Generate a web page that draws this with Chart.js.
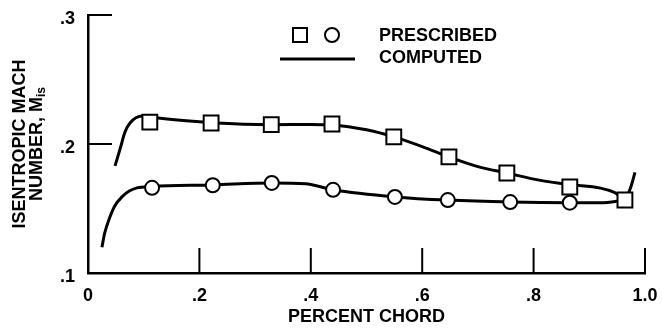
<!DOCTYPE html>
<html>
<head>
<meta charset="utf-8">
<script src="https://cdn.jsdelivr.net/npm/chart.js@4.4.0/dist/chart.umd.min.js"></script>
<style>
  html, body { margin: 0; padding: 0; background: #fff; }
  #wrap { width: 662px; height: 335px; }
</style>
</head>
<body>
<div id="wrap"><canvas id="machChart"></canvas></div>
<script>
// prescribed points (squares = upper surface, circles = lower surface)
const squareX = [0.111, 0.221, 0.329, 0.438, 0.549, 0.648, 0.752, 0.865, 0.964];
const squareY = [0.217, 0.2163, 0.215, 0.2155, 0.2055, 0.190, 0.1775, 0.1667, 0.1566];
const circleX = [0.115, 0.224, 0.330, 0.440, 0.551, 0.646, 0.758, 0.865];
const circleY = [0.166, 0.168, 0.1698, 0.1645, 0.159, 0.1565, 0.155, 0.1545];

// computed distributions
const upperX = [0.0485, 0.0575, 0.0664, 0.0754, 0.097, 0.126, 0.206, 0.221, 0.329, 0.40, 0.438, 0.50, 0.549, 0.60, 0.648, 0.70, 0.752, 0.81, 0.865, 0.92, 0.945, 0.964, 0.974, 0.982];
const upperY = [0.183, 0.196, 0.2093, 0.2163, 0.2217, 0.2202, 0.217, 0.2165, 0.2150, 0.2152, 0.2148, 0.211, 0.2055, 0.198, 0.190, 0.1825, 0.1775, 0.172, 0.1685, 0.1658, 0.1625, 0.1575, 0.166, 0.178];
const lowerX = [0.025, 0.030, 0.039, 0.048, 0.061, 0.074, 0.088, 0.115, 0.224, 0.330, 0.39, 0.440, 0.551, 0.646, 0.758, 0.865, 0.92, 0.964];
const lowerY = [0.120, 0.131, 0.143, 0.152, 0.159, 0.1635, 0.166, 0.167, 0.1683, 0.1698, 0.1692, 0.1645, 0.159, 0.1565, 0.155, 0.1545, 0.1545, 0.1565];

const xTicks = [0, 0.2, 0.4, 0.6, 0.8, 1.0];
const xTickLabels = ['0', '.2', '.4', '.6', '.8', '1.0'];
const yTicks = [0.1, 0.2, 0.3];
const yTickLabels = ['.1', '.2', '.3'];

const FONT = "'Liberation Sans', Arial, Helvetica, sans-serif";
const toPts = (xs, ys) => xs.map((x, i) => ({ x: x, y: ys[i] }));

// inward tick marks, y title with subscript, and the legend block
const decorations = {
  id: 'decorations',
  afterDraw(chart) {
    const ctx = chart.ctx;
    const xs = chart.scales.x, ys = chart.scales.y;
    const area = chart.chartArea;
    ctx.save();
    ctx.strokeStyle = '#000';
    ctx.lineWidth = 2;
    xTicks.slice(1).forEach(v => {
      const px = xs.getPixelForValue(v);
      ctx.beginPath();
      ctx.moveTo(px, area.bottom);
      ctx.lineTo(px, area.bottom - 25);
      ctx.stroke();
    });
    yTicks.slice(1).forEach(v => {
      const py = ys.getPixelForValue(v);
      ctx.beginPath();
      ctx.moveTo(area.left, py);
      ctx.lineTo(area.left + 24, py);
      ctx.stroke();
    });

    // y axis title, two rotated lines
    ctx.fillStyle = '#000';
    ctx.textBaseline = 'middle';
    const cy = 144;
    ctx.translate(20, cy);
    ctx.rotate(-Math.PI / 2);
    ctx.font = 'bold 18px ' + FONT;
    ctx.textAlign = 'center';
    ctx.fillText('ISENTROPIC MACH', 0, 0);
    ctx.setTransform(1, 0, 0, 1, 0, 0);
    ctx.translate(37, cy);
    ctx.rotate(-Math.PI / 2);
    ctx.textAlign = 'left';
    const main = 'NUMBER, M';
    ctx.font = 'bold 18px ' + FONT;
    const w1 = ctx.measureText(main).width;
    ctx.font = 'bold 12px ' + FONT;
    const w2 = ctx.measureText('is').width;
    const start = -(w1 + w2) / 2;
    ctx.font = 'bold 18px ' + FONT;
    ctx.fillText(main, start, 0);
    ctx.font = 'bold 12px ' + FONT;
    ctx.fillText('is', start + w1, 5);
    ctx.setTransform(1, 0, 0, 1, 0, 0);

    // legend
    ctx.lineWidth = 2;
    ctx.strokeRect(293, 28, 14, 14);
    ctx.beginPath();
    ctx.arc(332, 35, 7, 0, Math.PI * 2);
    ctx.stroke();
    ctx.lineWidth = 3;
    ctx.beginPath();
    ctx.moveTo(280, 59);
    ctx.lineTo(355, 59);
    ctx.stroke();
    ctx.font = 'bold 18px ' + FONT;
    ctx.textAlign = 'left';
    ctx.textBaseline = 'middle';
    ctx.fillText('PRESCRIBED', 379, 36);
    ctx.fillText('COMPUTED', 379, 58);
    ctx.restore();
  }
};

new Chart(document.getElementById('machChart'), {
  type: 'line',
  data: {
    datasets: [
      {
        label: 'Prescribed upper',
        data: toPts(squareX, squareY),
        showLine: false,
        pointStyle: 'rect',
        pointRadius: 10.5,
        pointBackgroundColor: '#fff',
        pointBorderColor: '#000',
        pointBorderWidth: 2
      },
      {
        label: 'Prescribed lower',
        data: toPts(circleX, circleY),
        showLine: false,
        pointStyle: 'circle',
        pointRadius: 7,
        pointBackgroundColor: '#fff',
        pointBorderColor: '#000',
        pointBorderWidth: 2
      },
      {
        label: 'Computed upper',
        data: toPts(upperX, upperY),
        borderColor: '#000',
        borderWidth: 3,
        pointRadius: 0,
        cubicInterpolationMode: 'monotone',
        fill: false
      },
      {
        label: 'Computed lower',
        data: toPts(lowerX, lowerY),
        borderColor: '#000',
        borderWidth: 3,
        pointRadius: 0,
        cubicInterpolationMode: 'monotone',
        fill: false
      }
    ]
  },
  options: {
    responsive: true,
    maintainAspectRatio: false,
    animation: false,
    devicePixelRatio: 1,
    layout: { padding: { left: 0, right: 17, top: 15, bottom: 0 } },
    plugins: { legend: { display: false }, tooltip: { enabled: false } },
    scales: {
      x: {
        type: 'linear',
        min: 0,
        max: 1,
        afterFit: s => {
          s.height = 62;
          s.paddingLeft = 0;
          s.paddingRight = 0;
        },
        afterBuildTicks: s => { s.ticks = xTicks.map(v => ({ value: v })); },
        grid: { display: false, drawTicks: false },
        border: { display: true, color: '#000', width: 2.5 },
        ticks: {
          padding: 12,
          color: '#000',
          maxRotation: 0,
          font: { family: FONT, size: 18, weight: 'bold' },
          callback: (v, i) => xTickLabels[i]
        },
        title: {
          display: true,
          text: 'PERCENT CHORD',
          color: '#000',
          font: { family: FONT, size: 18, weight: 'bold' },
          padding: { top: 0, bottom: 7 }
        }
      },
      y: {
        type: 'linear',
        min: 0.1,
        max: 0.3,
        afterFit: s => {
          s.width = 88;
          s.paddingTop = 0;
          s.paddingBottom = 0;
        },
        afterBuildTicks: s => { s.ticks = yTicks.map(v => ({ value: v })); },
        grid: { display: false, drawTicks: false },
        border: { display: true, color: '#000', width: 2.5 },
        ticks: {
          padding: 13,
          labelOffset: 4,
          color: '#000',
          font: { family: FONT, size: 18, weight: 'bold' },
          callback: (v, i) => yTickLabels[i]
        }
      }
    }
  },
  plugins: [decorations]
});
</script>
</body>
</html>
